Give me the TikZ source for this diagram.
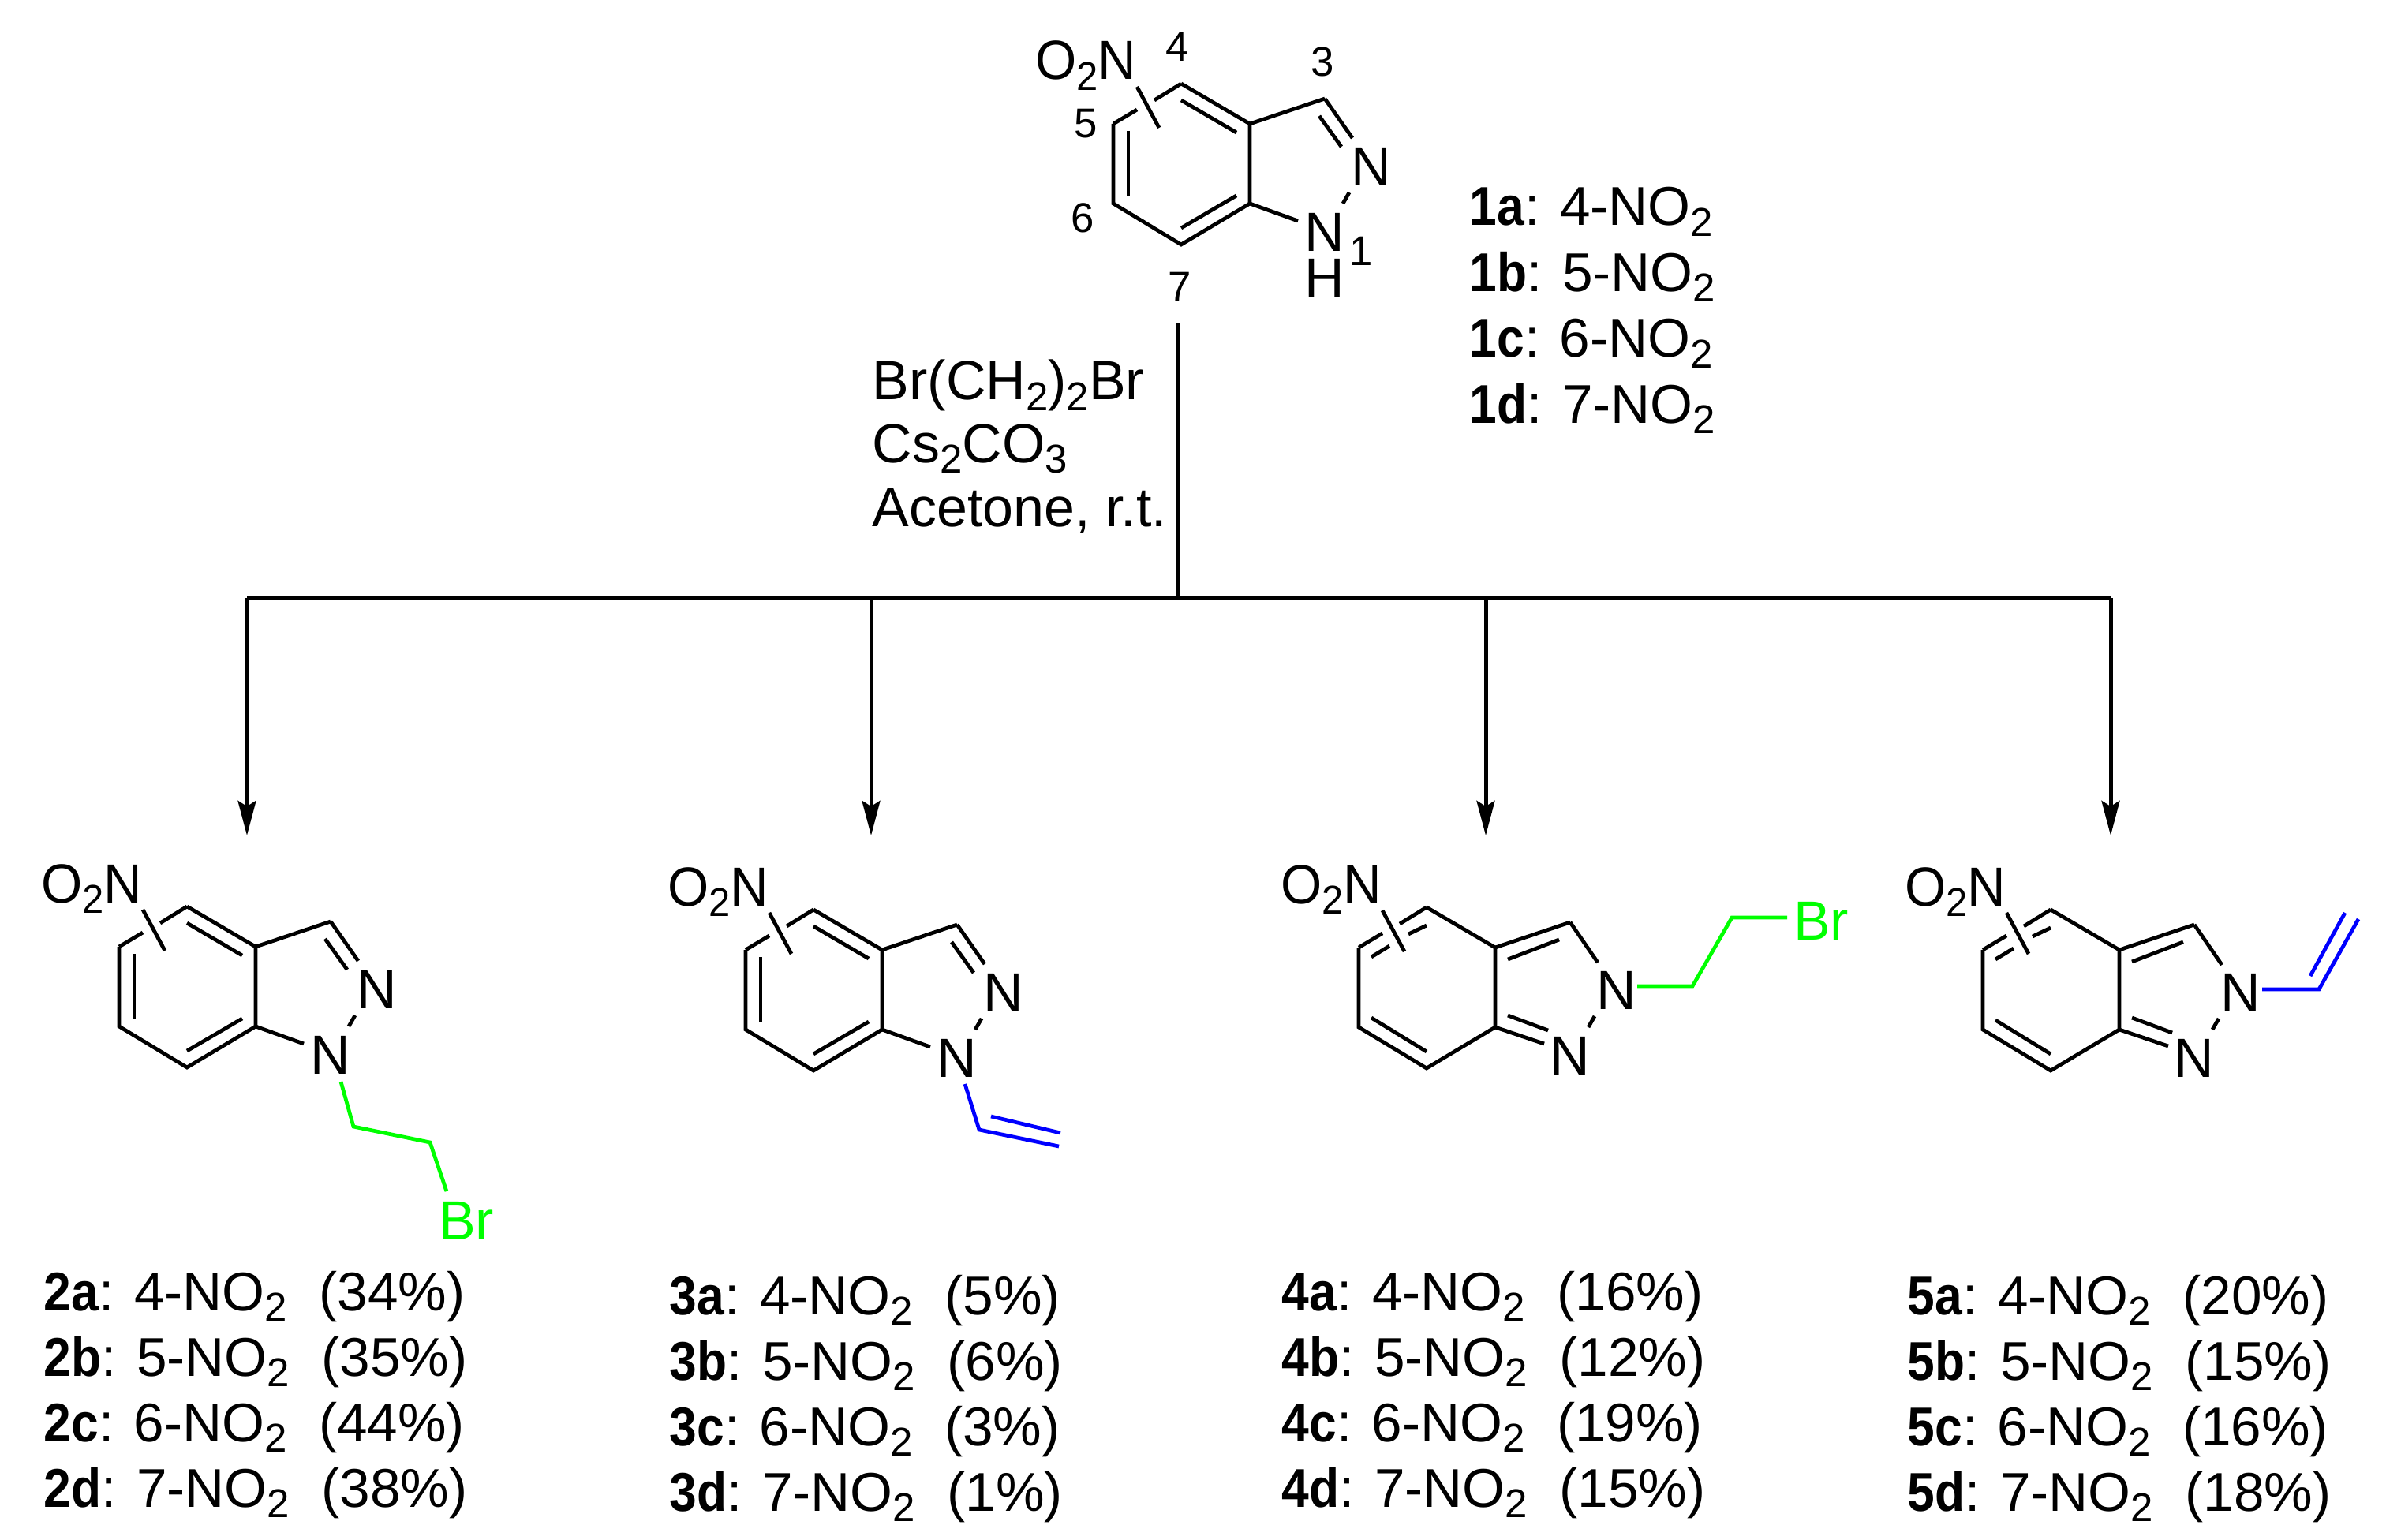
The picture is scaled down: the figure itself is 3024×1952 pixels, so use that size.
\documentclass[tikz,border=0pt]{standalone}
\usepackage{fontspec}
\setmainfont{Liberation Sans}
\usepackage{xcolor}
\usetikzlibrary{arrows.meta}
\definecolor{brgreen}{RGB}{0,255,0}
\definecolor{vinylblue}{RGB}{0,0,255}
\newcommand{\nsub}[1]{\raisebox{-0.19em}{\fontsize{14.5pt}{14.5pt}\selectfont #1}}
\newcommand{\cpdno}[1]{\scalebox{0.9}[1]{\textbf{#1}}}
\tikzset{
    bond/.style={line width=1.35pt},
    tree/.style={line width=1.42pt},
    treearrow/.style={tree,-{Stealth[length=12.5pt,width=6.5pt,inset=2pt]}},
    atom/.style={inner sep=0pt,font=\fontsize{19.9pt}{22pt}\selectfont},
    reagent/.style={inner sep=0pt,anchor=base west,font=\fontsize{19.9pt}{22pt}\selectfont},
    listtext/.style={inner sep=0pt,anchor=base west,font=\fontsize{19.7pt}{22pt}\selectfont},
    locant/.style={inner sep=0pt,font=\fontsize{15pt}{17pt}\selectfont},
}
\begin{document}
\begin{tikzpicture}[x=0.01cm,y=-0.01cm]
    \useasboundingbox (0,0) rectangle (3024,1952);

    % Skeleton shared by the five indazoles
    \foreach \mol/\x/\y in {top/1497/106, two/237/1149, three/1031/1153, four/1808/1150, five/2599/1153} {
        \begin{scope}[shift={(\x,\y)}]
            \coordinate (\mol c4) at (0,0);
            \coordinate (\mol c3a) at (87,51);
            \coordinate (\mol c7a) at (87,152);
            \coordinate (\mol c7) at (0,204);
            \coordinate (\mol c6) at (-86,152);
            \coordinate (\mol c5) at (-86,51);
            \coordinate (\mol c3) at (182,19);
            \node[atom] (\mol n2) at (241,105) {N};
            \node[atom] (\mol n1) at (182,188) {N};
            \node[atom,anchor=base east] (\mol no2) at (-56,-5) {\scalebox{0.96}[1]{O\nsub{2}N}};
            \draw[bond] (\mol c5) -- (\mol c6) -- (\mol c7) -- (\mol c7a) -- (\mol c3a) -- (\mol c4);
            \draw[bond] (\mol c3a) -- (\mol c3);
            \draw[bond] (\mol c5) -- (-56,33);
            \draw[bond] (-34,21) -- (\mol c4);
            \draw[bond] (-56,4) -- (-28,56);
            \draw[bond] (213,138) -- (205,152);
        \end{scope}
    }

    % 1H form
    \foreach \mol/\x/\y in {top/1497/106, two/237/1149, three/1031/1153} {
        \begin{scope}[shift={(\x,\y)}]
            \draw[bond] (\mol c3) -- (217,69);
            \draw[bond] (175,41) -- (203,80);
            \draw[bond] (\mol c7a) -- (148,174);
            \draw[bond] (0,21) -- (70,62);
            \draw[bond] (70,142) -- (0,183);
            \draw[bond] (-67,60) -- (-67,143);
        \end{scope}
    }

    % 2H form
    \foreach \mol/\x/\y in {four/1808/1150, five/2599/1153} {
        \begin{scope}[shift={(\x,\y)}]
            \draw[bond] (\mol c3) -- (217,70);
            \draw[bond] (103,66) -- (168,41);
            \draw[bond] (\mol c7a) -- (149,173);
            \draw[bond] (103,137) -- (154,156);
            \draw[bond] (-70,63) -- (-47,49);
            \draw[bond] (-23,34) -- (0,23);
            \draw[bond] (-70,140) -- (0,183);
        \end{scope}
    }

    % Numbering on the starting material
    \node[atom] (topH) at (1679,352) {H};
    \node[locant] (loc1) at (1725,318) {1};
    \node[locant] (loc3) at (1676,78) {3};
    \node[locant] (loc4) at (1492,59) {4};
    \node[locant] (loc5) at (1376,157) {5};
    \node[locant] (loc6) at (1372,276) {6};
    \node[locant] (loc7) at (1495,363) {7};

    \foreach \ltr/\pos [count=\k from 0] in {a/4, b/5, c/6, d/7}
        \node[listtext] (1\ltr) at (1862,286+83.5*\k) {\cpdno{1\ltr}: \pos-NO\nsub{2}};

    % Conditions
    \node[reagent] (dibromo) at (1105,507) {Br(CH\nsub{2})\nsub{2}Br};
    \node[reagent] (base) at (1105,586) {Cs\nsub{2}CO\nsub{3}};
    \node[reagent] (solvent) at (1105,667) {Acetone, r.t.};

    % Branching arrows
    \coordinate (stem) at (1493,410);
    \coordinate (hub) at (1493,758);
    \coordinate (barL) at (313,758);
    \coordinate (barR) at (2675,758);
    \coordinate (bar3) at (1104,758);
    \coordinate (bar4) at (1883,758);
    \coordinate (tip2) at (313,1059);
    \coordinate (tip3) at (1104,1059);
    \coordinate (tip4) at (1883,1059);
    \coordinate (tip5) at (2675,1059);
    \draw[tree] (stem) -- (hub);
    \draw[tree] (barL) -- (barR);
    \draw[treearrow] (barL) -- (tip2);
    \draw[treearrow] (bar3) -- (tip3);
    \draw[treearrow] (bar4) -- (tip4);
    \draw[treearrow] (barR) -- (tip5);

    % Side chains
    \node[atom,text=brgreen] (br2) at (591,1547) {Br};
    \draw[bond,brgreen] (432,1371) -- (448,1428) -- (545,1448) -- (566,1510);
    \draw[bond,vinylblue] (1223,1374) -- (1241,1432) -- (1342,1453);
    \draw[bond,vinylblue] (1256,1415) -- (1344,1436);
    \node[atom,text=brgreen] (br4) at (2308,1167) {Br};
    \draw[bond,brgreen] (2075,1250) -- (2145,1250) -- (2195,1163) -- (2265,1163);
    \draw[bond,vinylblue] (2867,1254) -- (2939,1254) -- (2989,1165);
    \draw[bond,vinylblue] (2928,1237) -- (2972,1157);

    % Yields
    \foreach \cpd/\x/\y/\pa/\pb/\pc/\pd in {2/55/1661/34/35/44/38, 3/848/1666/5/6/3/1, 4/1624/1661/16/12/19/15, 5/2417/1666/20/15/16/18} {
        \foreach \ltr/\pos/\pct [count=\k from 0] in {a/4/\pa, b/5/\pb, c/6/\pc, d/7/\pd}
            \node[listtext] (\cpd\ltr) at (\x,\y+83*\k) {\cpdno{\cpd\ltr}: \pos-NO\nsub{2}\hspace{0.58em}(\pct\%)};
    }
\end{tikzpicture}
\end{document}
